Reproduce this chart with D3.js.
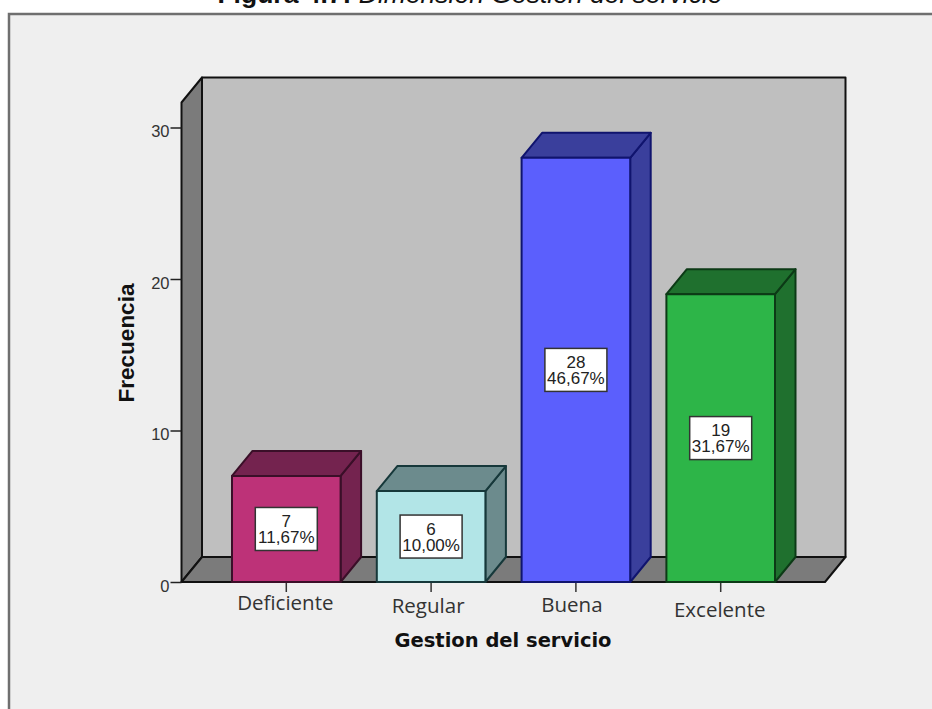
<!DOCTYPE html>
<html>
<head>
<meta charset="utf-8">
<script src="https://cdnjs.cloudflare.com/ajax/libs/d3/7.8.5/d3.min.js"></script>
<style>
html, body { margin: 0; padding: 0; background: #fff; }
svg { display: block; }
</style>
</head>
<body>
<div id="chart"></div>
<script>
var categories = ['Deficiente', 'Regular', 'Buena', 'Excelente'];
var counts = [7, 6, 28, 19];
var percents = ['11,67%', '10,00%', '46,67%', '31,67%'];
var yTicks = [0, 10, 20, 30];

var frontColors = ['#bd3278', '#b2e5e7', '#5b5ffd', '#2db548'];
var topColors = ['#74234f', '#6c8b8d', '#3a3f9c', '#1f702e'];
var edgeColors = ['#3a0f28', '#16383a', '#10146e', '#0c3a16'];

var svgWidth = 932;
var svgHeight = 709;

// oblique offset of the back plane, in pixels
var depthX = 20.5;
var depthY = -25;

var svg = d3.select('#chart')
    .append('svg')
    .attr('width', svgWidth)
    .attr('height', svgHeight);

// panel behind the chart
svg.append('rect')
    .attr('x', 9)
    .attr('y', 14)
    .attr('width', svgWidth)
    .attr('height', svgHeight)
    .attr('fill', '#efefef')
    .attr('stroke', '#6f6f6f')
    .attr('stroke-width', 2.5);

svg.append('text')
    .attr('x', 470)
    .attr('y', 3)
    .attr('text-anchor', 'middle')
    .attr('font-family', 'Liberation Sans')
    .attr('font-size', '26.5px')
    .attr('fill', '#111')
    .call(function(t) {
        t.append('tspan').attr('font-weight', 'bold').text('Figura 4.7: ');
        t.append('tspan').attr('font-style', 'italic').text('Dimensión Gestión del servicio');
    });

var yScale = d3.scaleLinear()
    .domain([0, 30])
    .range([582, 127.5]);

var xScale = d3.scaleBand()
    .domain(categories)
    .range([232, 775])
    .paddingInner(0.25);

var floorLeft = 181.5;
var floorRight = 825;
var wallTop = yScale(31.65);
var base = yScale(0);

function poly(points) {
    return points.map(function(p) { return p.join(','); }).join(' ');
}

var box = svg.append('g')
    .attr('stroke', '#111')
    .attr('stroke-width', 2)
    .attr('stroke-linejoin', 'round');

// left wall
box.append('polygon')
    .attr('points', poly([
        [floorLeft, base], [floorLeft, wallTop],
        [floorLeft + depthX, wallTop + depthY], [floorLeft + depthX, base + depthY]
    ]))
    .attr('fill', '#7b7b7b');

// back wall
box.append('rect')
    .attr('x', floorLeft + depthX)
    .attr('y', wallTop + depthY)
    .attr('width', floorRight - floorLeft)
    .attr('height', base - wallTop)
    .attr('fill', '#bfbfbf');

// floor
box.append('polygon')
    .attr('points', poly([
        [floorLeft, base], [floorRight, base],
        [floorRight + depthX, base + depthY], [floorLeft + depthX, base + depthY]
    ]))
    .attr('fill', '#7b7b7b');

// y axis
var yAxis = svg.append('g')
    .attr('transform', 'translate(' + floorLeft + ',0)')
    .call(d3.axisLeft(yScale).tickValues(yTicks).tickSize(11).tickPadding(1).tickFormat(d3.format('d')));
yAxis.select('.domain').remove();
yAxis.selectAll('line').attr('stroke', '#222').attr('stroke-width', 1.5);
yAxis.selectAll('text')
    .attr('font-family', 'Liberation Sans')
    .attr('font-size', '16.5px')
    .attr('fill', '#333')
    .attr('dy', '0.55em');

// x axis
var xAxis = svg.append('g')
    .attr('transform', 'translate(0,' + base + ')')
    .call(d3.axisBottom(xScale).tickSize(10).tickPadding(2));
xAxis.select('.domain').remove();
xAxis.selectAll('line').attr('stroke', '#333').attr('stroke-width', 1.5);
// the category labels sit at slightly uneven spots under their ticks
var labelDx = [-1, -3, -4, -1];
var labelBaseline = [28, 31, 30, 35];
xAxis.selectAll('text')
    .attr('font-family', 'Open Sans')
    .attr('font-size', '20.5px')
    .attr('fill', '#333')
    .attr('dx', function(d, i) { return labelDx[i]; })
    .attr('y', function(d, i) { return labelBaseline[i]; })
    .attr('dy', 0);

// bars, with their top and side faces
var bars = svg.selectAll('.bar')
    .data(categories)
    .enter()
    .append('g')
    .attr('class', 'bar')
    .attr('stroke', function(d, i) { return edgeColors[i]; })
    .attr('stroke-width', 2)
    .attr('stroke-linejoin', 'round');

bars.append('polygon')
    .attr('points', function(d, i) {
        var x1 = xScale(d) + xScale.bandwidth();
        var y1 = yScale(counts[i]);
        return poly([[x1, base], [x1, y1], [x1 + depthX, y1 + depthY], [x1 + depthX, base + depthY]]);
    })
    .attr('fill', function(d, i) { return topColors[i]; });

bars.append('polygon')
    .attr('points', function(d, i) {
        var x0 = xScale(d);
        var x1 = x0 + xScale.bandwidth();
        var y1 = yScale(counts[i]);
        return poly([[x0, y1], [x1, y1], [x1 + depthX, y1 + depthY], [x0 + depthX, y1 + depthY]]);
    })
    .attr('fill', function(d, i) { return topColors[i]; });

bars.append('rect')
    .attr('x', function(d) { return xScale(d); })
    .attr('y', function(d, i) { return yScale(counts[i]); })
    .attr('width', xScale.bandwidth())
    .attr('height', function(d, i) { return base - yScale(counts[i]); })
    .attr('fill', function(d, i) { return frontColors[i]; });

// value boxes in the middle of each bar
var labelW = 62;
var labelH = 43;
var labels = svg.selectAll('.valueLabel')
    .data(categories)
    .enter()
    .append('g')
    .attr('class', 'valueLabel')
    .attr('transform', function(d, i) {
        var cx = xScale(d) + xScale.bandwidth() / 2;
        var cy = (yScale(counts[i]) + base) / 2;
        return 'translate(' + cx + ',' + cy + ')';
    });

labels.append('rect')
    .attr('x', -labelW / 2)
    .attr('y', -labelH / 2)
    .attr('width', labelW)
    .attr('height', labelH)
    .attr('fill', '#fff')
    .attr('stroke', '#333')
    .attr('stroke-width', 1.5);

labels.append('text')
    .attr('text-anchor', 'middle')
    .attr('font-family', 'Liberation Sans')
    .attr('font-size', '17px')
    .attr('fill', '#222')
    .attr('y', -2)
    .text(function(d, i) { return counts[i]; });

labels.append('text')
    .attr('text-anchor', 'middle')
    .attr('font-family', 'Liberation Sans')
    .attr('font-size', '17px')
    .attr('fill', '#222')
    .attr('y', 14)
    .text(function(d, i) { return percents[i]; });

// axis titles
svg.append('text')
    .attr('x', 503)
    .attr('y', 647)
    .attr('text-anchor', 'middle')
    .attr('font-family', 'DejaVu Sans')
    .attr('font-weight', 'bold')
    .attr('font-size', '19.5px')
    .attr('fill', '#111')
    .text('Gestion del servicio');

svg.append('text')
    .attr('transform', 'translate(134,343) rotate(-90)')
    .attr('text-anchor', 'middle')
    .attr('font-family', 'Liberation Sans')
    .attr('font-weight', 'bold')
    .attr('font-size', '22.5px')
    .attr('fill', '#111')
    .text('Frecuencia');
</script>
</body>
</html>
